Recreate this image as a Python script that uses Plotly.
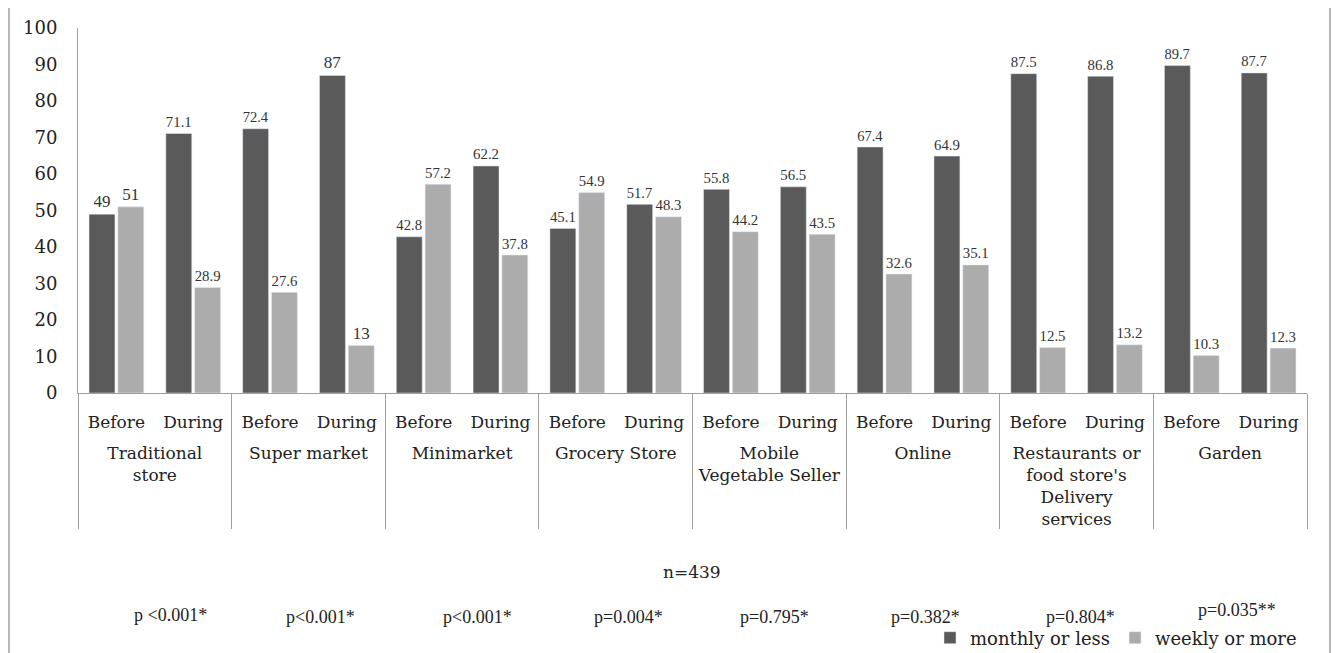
import plotly.graph_objects as go

categories = ["Traditional<br>store", "Super market", "Minimarket", "Grocery Store",
              "Mobile<br>Vegetable Seller", "Online",
              "Restaurants or<br>food store's<br>Delivery<br>services", "Garden"]
periods = ["Before", "During"]

monthly_or_less = [49, 71.1, 72.4, 87, 42.8, 62.2, 45.1, 51.7,
                   55.8, 56.5, 67.4, 64.9, 87.5, 86.8, 89.7, 87.7]
weekly_or_more = [51, 28.9, 27.6, 13, 57.2, 37.8, 54.9, 48.3,
                  44.2, 43.5, 32.6, 35.1, 12.5, 13.2, 10.3, 12.3]

p_values = ["p <0.001*", "p<0.001*", "p<0.001*", "p=0.004*",
            "p=0.795*", "p=0.382*", "p=0.804*", "p=0.035**"]
p_x = [170, 320, 477, 628, 775, 925, 1080, 1237]
p_y = [615, 617, 617, 617, 617, 617, 617, 610]
n_label = "n=439"

x_outer = ["<br>" + c for c in categories for _ in periods]
x_inner = [p for _ in categories for p in periods]
x = [x_outer, x_inner]

SERIF = "Liberation Serif"
CAMB = "DejaVu Serif"

# page offset (browser default body margin)
OFF = 8
W, H = 1339 - OFF, 653 - OFF

def cx(px):  # page px -> container x
    return (px - OFF) / W

def cy(py):  # page py -> container y
    return 1 - (py - OFF) / H

L = 78 - OFF
T = 28 - OFF
R = W - (1307 - OFF)
B = H - (393 - OFF)
pw = W - L - R
ph = H - T - B

fig = go.Figure()
fig.add_trace(go.Bar(
    x=x, y=monthly_or_less, name="monthly or less",
    marker=dict(color="#5a5a5a"),
    text=[f"{v:g}" for v in monthly_or_less], textposition="outside",
    textfont=dict(family=SERIF, size=17, color="#333333"), cliponaxis=False,
))
fig.add_trace(go.Bar(
    x=x, y=weekly_or_more, name="weekly or more",
    marker=dict(color="#acacac"),
    text=[f"{v:g}" for v in weekly_or_more], textposition="outside",
    textfont=dict(family=SERIF, size=17, color="#333333"), cliponaxis=False,
))

annotations = []
for txt, xx, yy in zip(p_values, p_x, p_y):
    annotations.append(dict(text=txt, x=cx(xx), y=cy(yy),
                            xref="paper", yref="paper", showarrow=False,
                            font=dict(family=SERIF, size=18, color="#222222"),
                            xanchor="center", yanchor="middle"))
annotations.append(dict(text=n_label, x=cx(692), y=cy(572),
                        xref="paper", yref="paper", showarrow=False,
                        font=dict(family=CAMB, size=17, color="#222222"),
                        xanchor="center", yanchor="middle"))
for a in annotations:
    a["x"] = (a["x"] * W - L) / pw
    a["y"] = (a["y"] * H - B) / ph

fig.update_layout(
    width=W, height=H,
    margin=dict(l=L, r=R, t=T, b=B, autoexpand=False),
    paper_bgcolor="white", plot_bgcolor="white",
    barmode="group", bargap=0.25, bargroupgap=0.1,
    showlegend=True,
    legend=dict(orientation="h", xref="container", yref="container",
                x=cx(930), y=cy(638),
                xanchor="left", yanchor="middle",
                font=dict(family=CAMB, size=18, color="#222222"),
                itemwidth=30, tracegroupgap=0, bgcolor="rgba(0,0,0,0)"),
    annotations=annotations,
    xaxis=dict(
        type="multicategory", automargin=False,
        showline=True, linecolor="#a0a0a0", linewidth=1,
        showdividers=True, dividercolor="#a0a0a0", dividerwidth=1,
        tickfont=dict(family=CAMB, size=17, color="#222222"),
        ticks="", showgrid=False, ticklabelstandoff=14,
    ),
    yaxis=dict(
        range=[0, 100], dtick=10, automargin=False,
        showline=True, linecolor="#a0a0a0", linewidth=1,
        showgrid=False, zeroline=False, ticks="",
        tickfont=dict(family=CAMB, size=18, color="#222222"),
        ticklabelstandoff=16,
    ),
    shapes=[dict(type="rect", xref="paper", yref="paper",
                 x0=(cx(9) * W - L) / pw, x1=(cx(1330) * W - L) / pw,
                 y0=(cy(720) * H - B) / ph, y1=(cy(5) * H - B) / ph,
                 line=dict(color="#a0a0a0", width=1.5), fillcolor="rgba(0,0,0,0)",
                 layer="below")],
)

fig.write_html("out.html")
